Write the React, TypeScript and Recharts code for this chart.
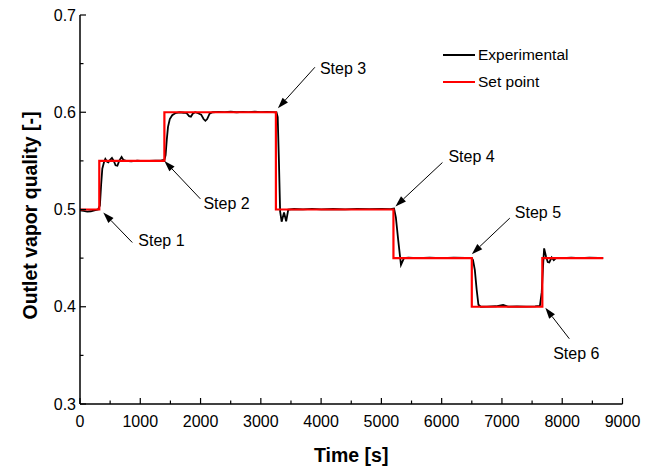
import { LineChart, Line, XAxis, YAxis, ReferenceDot } from 'recharts'

const font = '"Liberation Sans", Arial, Helvetica, sans-serif'

// set point steps (stepAfter)
const setTime = [0, 320, 1400, 3250, 5200, 6500, 7670, 8680]
const setQuality = [0.5, 0.55, 0.6, 0.5, 0.45, 0.4, 0.45, 0.45]

const expTime = [
  0, 60, 120, 180, 240, 300, 330, 350, 370, 400, 420, 450, 470, 500, 530, 560, 590, 620, 650, 690,
  720, 760, 850, 950, 1050, 1150, 1250, 1350, 1400, 1420, 1440, 1460, 1490, 1530, 1580, 1650, 1720,
  1770, 1810, 1840, 1870, 1910, 1960, 2010, 2050, 2080, 2110, 2150, 2200, 2300, 2400, 2500, 2600,
  2700, 2800, 2900, 3000, 3100, 3200, 3260, 3280, 3300, 3320, 3345, 3385, 3420, 3455, 3550, 3700,
  3850, 4000, 4200, 4400, 4600, 4800, 5000, 5150, 5210, 5240, 5280, 5325, 5375, 5450, 5600, 5800,
  6000, 6200, 6400, 6500, 6520, 6550, 6580, 6610, 6650, 6750, 6900, 7020, 7100, 7250, 7400, 7550,
  7630, 7660, 7685, 7700, 7730, 7760, 7785, 7825, 7860, 7900, 8000, 8150, 8300, 8450, 8600, 8680,
]
const expQuality = [
  0.499, 0.4985, 0.4978, 0.4982, 0.4992, 0.5, 0.504, 0.525, 0.542, 0.549, 0.552, 0.549, 0.5485, 0.551,
  0.553, 0.55, 0.5455, 0.545, 0.55, 0.554, 0.551, 0.55, 0.5495, 0.5502, 0.5498, 0.55, 0.5502, 0.5505,
  0.551, 0.556, 0.572, 0.585, 0.593, 0.597, 0.599, 0.6, 0.5995, 0.599, 0.596, 0.5955, 0.5985, 0.6,
  0.599, 0.5975, 0.593, 0.5912, 0.593, 0.5985, 0.6, 0.6003, 0.6001, 0.6005, 0.6, 0.6004, 0.6001,
  0.6005, 0.6002, 0.6004, 0.6002, 0.6, 0.595, 0.55, 0.498, 0.4875, 0.497, 0.4878, 0.5, 0.5005, 0.5002,
  0.5006, 0.5001, 0.5005, 0.5002, 0.5006, 0.5003, 0.5005, 0.5004, 0.501, 0.492, 0.468, 0.443, 0.45,
  0.4505, 0.45, 0.4505, 0.4501, 0.4505, 0.4502, 0.45, 0.448, 0.438, 0.418, 0.402, 0.4, 0.4002, 0.4005,
  0.4018, 0.4002, 0.4004, 0.4001, 0.4003, 0.401, 0.415, 0.445, 0.46, 0.452, 0.446, 0.4455, 0.4508,
  0.448, 0.4503, 0.45, 0.4504, 0.4501, 0.4505, 0.4502, 0.45,
]

const xTicks = [0, 500, 1000, 1500, 2000, 2500, 3000, 3500, 4000, 4500, 5000, 5500, 6000, 6500, 7000, 7500, 8000, 8500, 9000]
const yTicks = [0.3, 0.35, 0.4, 0.45, 0.5, 0.55, 0.6, 0.65, 0.7]

const stepNames = ['Step 1', 'Step 2', 'Step 3', 'Step 4', 'Step 5', 'Step 6']

const setData = setTime.map((t, i) => ({ t, q: setQuality[i] }))
const expData = expTime.map((t, i) => ({ t, q: expQuality[i] }))

// arrow layout in px: head nudge, tail offset from head, label offset from tail
const arrowLayout = [
  { hx: 4, hy: 3, dx: 29, dy: 30, lx: 6, ly: -2, anchor: 'start' },
  { hx: 0, hy: 0, dx: 36, dy: 38, lx: 3, ly: 5, anchor: 'start' },
  { hx: 2, hy: -4, dx: 37, dy: -41, lx: 5, ly: 1, anchor: 'start' },
  { hx: 2, hy: -3, dx: 47, dy: -44, lx: 6, ly: -6, anchor: 'start' },
  { hx: 0, hy: -4, dx: 38, dy: -36, lx: 5, ly: -6, anchor: 'start' },
  { hx: 3, hy: 1, dx: 24, dy: 31, lx: 7, ly: 15, anchor: 'middle' },
]

const isMajorX = (v: number) => v % 1000 === 0
const isMajorY = (v: number) => Math.abs(v * 10 - Math.round(v * 10)) < 1e-6

const BottomTick = ({ x, y, payload }: any) => {
  const v = payload.value
  const major = isMajorX(v)
  return (
    <g>
      <line x1={x} x2={x} y1={y} y2={y - (major ? 6 : 3.5)} stroke="#000" strokeWidth={1.2} />
      {major && (
        <text x={x} y={y + 17} textAnchor="middle" dominantBaseline="central" fontSize={16} fontFamily={font} fill="#000">
          {v}
        </text>
      )}
    </g>
  )
}

const TopTick = ({ x, y, payload }: any) => (
  <line x1={x} x2={x} y1={y} y2={y + (isMajorX(payload.value) ? 6 : 3.5)} stroke="#000" strokeWidth={1.2} />
)

const LeftTick = ({ x, y, payload }: any) => {
  const v = payload.value
  const major = isMajorY(v)
  return (
    <g>
      <line x1={x} x2={x + (major ? 6 : 3.5)} y1={y} y2={y} stroke="#000" strokeWidth={1.2} />
      {major && (
        <text x={x - 4} y={y} textAnchor="end" dominantBaseline="central" fontSize={16} fontFamily={font} fill="#000">
          {v.toFixed(1)}
        </text>
      )}
    </g>
  )
}

const RightTick = ({ x, y, payload }: any) => (
  <line x1={x} x2={x - (isMajorY(payload.value) ? 6 : 3.5)} y1={y} y2={y} stroke="#000" strokeWidth={1.2} />
)

const StepArrow = ({ cx, cy, idx }: any) => {
  const l = arrowLayout[idx]
  const hx = cx + l.hx
  const hy = cy + l.hy
  const tx = hx + l.dx
  const ty = hy + l.dy
  const len = Math.hypot(l.dx, l.dy)
  const ux = -l.dx / len
  const uy = -l.dy / len
  const bx = hx - ux * 11
  const by = hy - uy * 11
  const px = -uy * 3.6
  const py = ux * 3.6
  return (
    <g>
      <line x1={tx} y1={ty} x2={bx} y2={by} stroke="#000" strokeWidth={1} />
      <polygon points={`${hx},${hy} ${bx + px},${by + py} ${bx - px},${by - py}`} fill="#000" />
      <text
        x={tx + l.lx}
        y={ty + l.ly}
        textAnchor={l.anchor}
        dominantBaseline="central"
        fontSize={16}
        fontFamily={font}
        fill="#000"
      >
        {stepNames[idx]}
      </text>
    </g>
  )
}

export default function App() {
  return (
    <div style={{ position: 'absolute', left: 0, top: 0, width: 652, height: 468, background: '#fff' }}>
      <LineChart width={652} height={468} data={expData} margin={{ top: 15, right: 29.5, bottom: 34, left: 20 }}>
        <XAxis
          dataKey="t"
          type="number"
          domain={[0, 9000]}
          ticks={xTicks}
          interval={0}
          height={30}
          tickSize={0}
          tickMargin={0}
          tick={<BottomTick />}
          axisLine={{ stroke: '#000', strokeWidth: 1.5 }}
          label={{
            content: ({ viewBox }: any) => (
              <text
                x={viewBox.x + viewBox.width / 2}
                y={viewBox.y + 58}
                textAnchor="middle"
                fontSize={19.5}
                fontWeight="bold"
                fontFamily={font}
                fill="#000"
              >
                Time [s]
              </text>
            ),
          }}
        />
        <XAxis
          xAxisId="top"
          orientation="top"
          dataKey="t"
          type="number"
          domain={[0, 9000]}
          ticks={xTicks}
          interval={0}
          height={0}
          tickSize={0}
          tickMargin={0}
          tick={<TopTick />}
          axisLine={{ stroke: '#000', strokeWidth: 1.5 }}
        />
        <YAxis
          type="number"
          domain={[0.3, 0.7]}
          ticks={yTicks}
          interval={0}
          width={60}
          tickSize={0}
          tickMargin={0}
          tick={<LeftTick />}
          axisLine={{ stroke: '#000', strokeWidth: 1.5 }}
          label={{
            content: ({ viewBox }: any) => {
              const x = viewBox.x + 16.5
              const y = viewBox.y + viewBox.height / 2 + 6
              return (
                <text
                  x={x}
                  y={y}
                  transform={`rotate(-90 ${x} ${y})`}
                  textAnchor="middle"
                  fontSize={19.5}
                  fontWeight="bold"
                  fontFamily={font}
                  fill="#000"
                >
                  Outlet vapor quality [-]
                </text>
              )
            },
          }}
        />
        <YAxis
          yAxisId="right"
          orientation="right"
          type="number"
          domain={[0.3, 0.7]}
          ticks={yTicks}
          interval={0}
          width={0}
          tickSize={0}
          tickMargin={0}
          tick={<RightTick />}
          axisLine={{ stroke: '#000', strokeWidth: 1.5 }}
        />
        <Line
          data={expData}
          dataKey="q"
          type="linear"
          stroke="#000"
          strokeWidth={1.8}
          dot={false}
          isAnimationActive={false}
        />
        <Line
          data={setData}
          dataKey="q"
          type="stepAfter"
          stroke="#ff0000"
          strokeWidth={2.2}
          dot={false}
          isAnimationActive={false}
        />
        {stepNames.map((name, i) => (
          <ReferenceDot
            key={name}
            x={setTime[i + 1]}
            y={setQuality[i]}
            r={0}
            ifOverflow="visible"
            shape={(p: any) => <StepArrow {...p} idx={i} />}
          />
        ))}
      </LineChart>
      <div style={{ position: 'absolute', left: 443, top: 41, fontFamily: font, fontSize: 15.5, color: '#000', lineHeight: '27px' }}>
        <div style={{ display: 'flex', alignItems: 'center' }}>
          <span style={{ display: 'inline-block', width: 32, height: 2, background: '#000', marginRight: 3 }} />
          Experimental
        </div>
        <div style={{ display: 'flex', alignItems: 'center' }}>
          <span style={{ display: 'inline-block', width: 32, height: 2, background: '#ff0000', marginRight: 3 }} />
          Set point
        </div>
      </div>
    </div>
  )
}
